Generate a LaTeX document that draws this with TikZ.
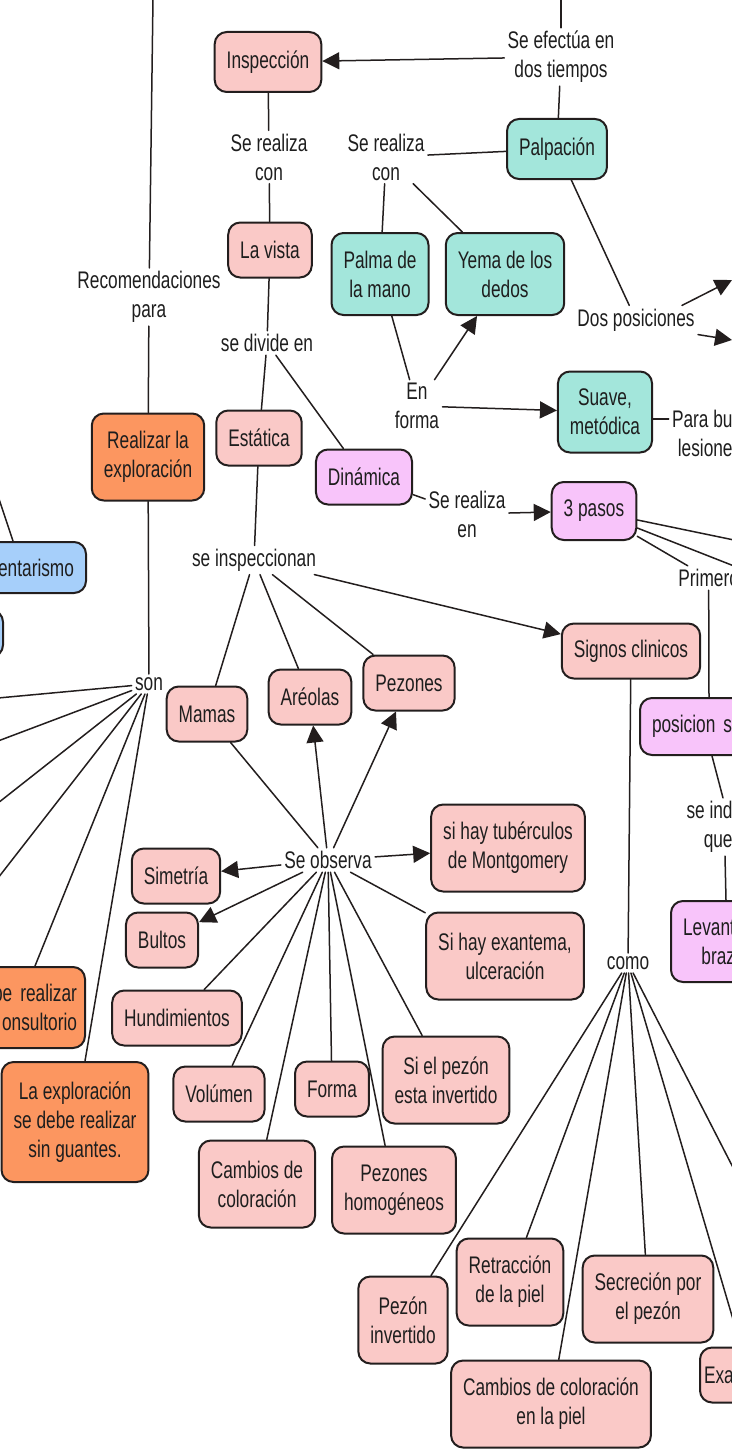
\documentclass[tikz,border=0pt]{standalone}
\usepackage{fontspec}
\setmainfont[FakeStretch=0.72]{Liberation Sans}
\usetikzlibrary{arrows.meta}
\definecolor{cRosa}{RGB}{250,201,199}
\definecolor{cVerde}{RGB}{163,230,219}
\definecolor{cVio}{RGB}{248,196,250}
\definecolor{cNaranja}{RGB}{252,150,96}
\definecolor{cAzul}{RGB}{166,207,250}
\definecolor{cBorde}{RGB}{35,30,30}
\definecolor{cTexto}{RGB}{30,30,30}
\begin{document}
\begin{tikzpicture}[x=0.5pt, y=-0.5pt, font=\fontsize{12pt}{14.5pt}\selectfont, line join=round, line cap=round,
	>={Triangle[length=8.5pt,width=8.5pt]},
	caja/.style={draw=cBorde, line width=1pt, rounded corners=6pt, inner xsep=6pt, inner ysep=3pt, align=center, minimum height=27.5pt, text=cTexto},
	cajarosa/.style={caja, fill=cRosa},
	cajaverde/.style={caja, fill=cVerde},
	cajavio/.style={caja, fill=cVio},
	cajanar/.style={caja, fill=cNaranja},
	cajaazul/.style={caja, fill=cAzul},
	dos/.style={minimum height=43.5pt},
	etq/.style={inner sep=1.5pt, align=center, text=cTexto},
	con/.style={draw=cBorde, line width=0.75pt},
	flecha/.style={con, ->}]
	\useasboundingbox (0,0) rectangle (732,1450);
	\clip (0,0) rectangle (732,1450);
	% inspeccion
	\node[cajarosa, minimum height=30pt] (insp) at (268,62) {Inspección};
	\node[etq] (realcon) at (269,157) {Se realiza\\con};
	\node[cajarosa] (vista) at (270,250) {La vista};
	\node[etq] (divide) at (267,343) {se divide en};
	\node[cajarosa] (estat) at (259,438) {Estática};
	\node[cajavio] (dinam) at (364,477) {Dinámica};
	\node[etq] (inspec) at (254,560) {se inspeccionan};
	\node[cajarosa] (mamas) at (207,714) {Mamas};
	\node[cajarosa] (areol) at (310,697) {Aréolas};
	\node[cajarosa] (pezon) at (409,683) {Pezones};
	\node[cajarosa] (signos) at (631,651) {Signos clinicos};
	\node[etq] (observa) at (328,860) {Se observa};
	\node[cajarosa] (simet) at (176,876) {Simetría};
	\node[cajarosa] (bultos) at (162,940) {Bultos};
	\node[cajarosa] (hundi) at (177,1018) {Hundimientos};
	\node[cajarosa] (volum) at (219,1094) {Volúmen};
	\node[cajarosa] (forma) at (332,1089) {Forma};
	\node[cajarosa, dos] (invert) at (446,1080) {Si el pezón\\esta invertido};
	\node[cajarosa, dos] (colora) at (257,1184) {Cambios de\\coloración};
	\node[cajarosa, dos] (homog) at (394,1190) {Pezones\\homogéneos};
	\node[cajarosa, dos] (tuber) at (508,848) {si hay tubérculos\\de Montgomery};
	\node[cajarosa, dos] (exant) at (505,956) {Si hay exantema,\\ulceración};
	\node[etq] (como) at (628,963) {como};
	\node[cajarosa, dos] (pinv) at (403,1320) {Pezón\\invertido};
	\node[cajarosa, dos] (retra) at (510,1282) {Retracción\\de la piel};
	\node[cajarosa, dos] (secre) at (648,1299) {Secreción por\\el pezón};
	\node[cajarosa, dos] (piel) at (551,1404) {Cambios de coloración\\en la piel};
	\node[cajarosa, anchor=west, inner xsep=2pt, text width=20pt, align=left] (exa) at (699,1375) {Exa};
	% palpacion
	\node[etq] (efect) at (561,57) {Se efectúa en\\dos tiempos};
	\node[cajaverde, minimum height=30pt] (palp) at (557,149) {Palpación};
	\node[etq] (realcon2) at (386,157) {Se realiza\\con};
	\node[cajaverde, minimum height=41pt] (palma) at (380,274) {Palma de\\la mano};
	\node[cajaverde, minimum height=41pt] (yema) at (505,274) {Yema de los\\dedos};
	\node[etq] (dospos) at (636,320) {Dos posiciones};
	\node[etq] (enforma) at (417,406) {En\\forma};
	\node[cajaverde, minimum height=40.5pt] (suave) at (605,412) {Suave,\\metódica};
	\node[etq, anchor=east, align=right] (buscar) at (736,433) {Para bu\\lesione};
	% dinamica
	\node[etq] (relen) at (467,514) {Se realiza\\en};
	\node[cajavio, minimum height=29pt] (pasos) at (594,511) {3 pasos};
	\node[etq, anchor=west] (primero) at (675,578) {Primero};
	\node[cajavio, anchor=west, text width=50pt, align=left, minimum height=28.5pt] (posic) at (639,726.5) {posicion se};
	\node[etq, anchor=east, align=right] (seind) at (736,827) {se ind\\que};
	\node[cajavio, anchor=west, text width=26pt, align=right, minimum height=40.5pt] (levan) at (670,941.5) {Levant\\braz};
	% recomendaciones
	\node[etq] (recom) at (149,297) {Recomendaciones\\para};
	\node[cajanar, dos] (realiz) at (148,457) {Realizar la\\exploración};
	\node[etq] (son) at (149,684) {son};
	\node[cajaazul, anchor=east, text width=40pt, align=right, minimum height=25.5pt] (sedent) at (87,567.5) {entarismo};
	\node[cajaazul, anchor=east, minimum width=40pt, minimum height=23.5pt] (azul2) at (4,633.5) {};
	\node[cajanar, anchor=east, inner xsep=4pt, text width=50pt, align=right, minimum height=40.5pt] (debe) at (86,1007.5) {be realizar\\onsultorio};
	\node[cajanar, minimum height=60pt] (guant) at (75,1122) {La exploración\\se debe realizar\\sin guantes.};
	\coordinate (arribaI) at (153,-2);
	\coordinate (arribaD) at (561,-2);
	\coordinate (sedfuera) at (-3,493);
	\coordinate (sonA) at (-2,698);
	\coordinate (sonB) at (-2,741);
	\coordinate (sonC) at (-2,803);
	\coordinate (sonD) at (-2,878);
	\coordinate (dosA) at (732,280);
	\coordinate (dosB) at (732,340);
	\coordinate (pasA) at (734,540);
	\coordinate (pasB) at (734,566);
	\coordinate (comoA) at (745,1360);
	\coordinate (comoB) at (742,1185);
	\path ([yshift=-3.5pt]suave.east) coordinate (suaveD);
	% conectores
	\draw[con] (arribaD) -- (efect);
	\draw[flecha] (efect) -- (insp);
	\draw[con] (efect) -- (palp);
	\draw[con] (insp) -- (realcon);
	\draw[con] (realcon) -- (vista);
	\draw[con] (vista) -- (divide);
	\draw[con] (divide) -- (estat);
	\draw[con] (divide) -- (dinam);
	\draw[con] (estat) -- (inspec);
	\draw[con] (inspec) -- (mamas);
	\draw[con] (inspec) -- (areol);
	\draw[con] (inspec) -- (pezon);
	\draw[flecha] (inspec) -- (signos);
	\draw[con] (observa) -- (mamas);
	\draw[flecha] (observa) -- (areol);
	\draw[flecha] (observa) -- (pezon);
	\draw[flecha] (observa) -- (tuber);
	\draw[flecha] (observa) -- (simet);
	\draw[flecha] (observa) -- (bultos);
	\foreach \destino in {exant, invert, homog, forma, colora, volum, hundi}
		\draw[con] (observa) -- (\destino);
	\draw[con] (signos) -- (como);
	\foreach \destino in {pinv, retra, piel, secre, comoA, comoB}
		\draw[con] (como) -- (\destino);
	\draw[con] (palp) -- (realcon2);
	\draw[con] (realcon2) -- (palma);
	\draw[con] (realcon2) -- (yema);
	\draw[con] (palma) -- (enforma);
	\draw[flecha] (enforma) -- (yema);
	\draw[flecha] (enforma) -- (suave);
	\draw[con] (suaveD) -- (suaveD -| buscar.west);
	\draw[con] (palp) -- (dospos);
	\draw[flecha] ([xshift=-8pt]dospos.north east) -- (dosA);
	\draw[flecha] (dospos.south east) -- (dosB);
	\draw[con] (dinam) -- (relen);
	\draw[flecha] (relen) -- (pasos);
	\draw[con] (pasos) -- (pasA);
	\draw[con] (pasos) -- (pasB);
	\draw[con] (pasos) -- (primero);
	\draw[con] (primero) -- ([xshift=3.5pt]posic.north);
	\draw[con] ([xshift=5pt]posic.south) -- ([xshift=-6.5pt]seind.north east);
	\draw[con] ([xshift=-5.5pt]seind.south east) -- ([xshift=8.5pt]levan.north);
	\draw[con] (arribaI) -- (recom);
	\draw[con] (recom) -- (realiz);
	\draw[con] (realiz) -- (son);
	\draw[con] (sedfuera) -- ([xshift=16pt]sedent.north west);
	\foreach \destino in {sonA, sonB, sonC, sonD}
		\draw[con] (son) -- (\destino);
	\draw[con] (son) -- ([xshift=4pt]debe.north);
	\draw[con] (son) -- ([xshift=5pt]guant.north);
\end{tikzpicture}
\end{document}
